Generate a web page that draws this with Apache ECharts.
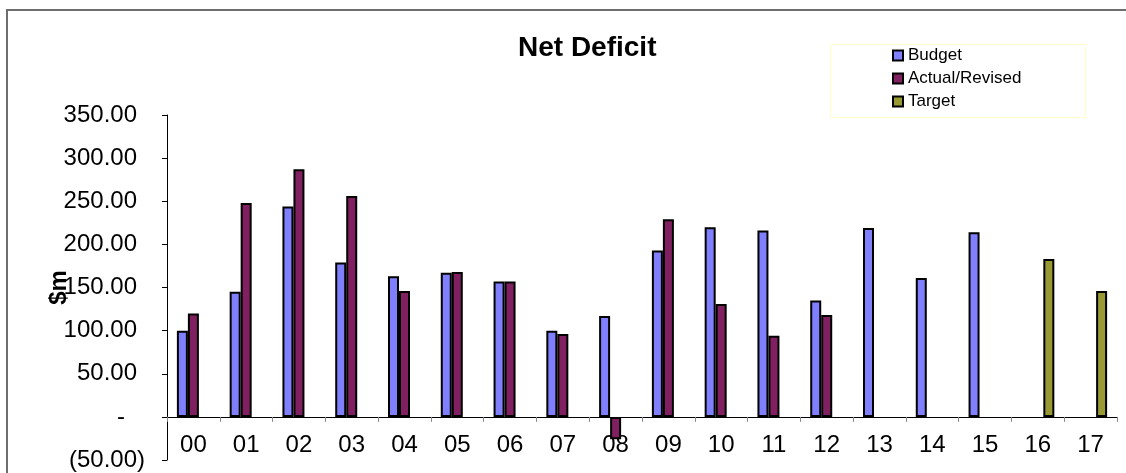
<!DOCTYPE html>
<html>
<head>
<meta charset="utf-8">
<script src="https://cdn.jsdelivr.net/npm/echarts@6/dist/echarts.min.js"></script>
<style>
  html, body { margin: 0; padding: 0; background: #fff; }
  #chart { width: 1126px; height: 473px; }
</style>
</head>
<body>
<div id="chart"></div>
<script>
// categories (years)
var years = ["00", "01", "02", "03", "04", "05", "06", "07", "08", "09", "10", "11", "12", "13", "14", "15", "16", "17"];
// $m values
var budget = [100, 145, 244, 179, 163, 167, 157, 100, 117, 193, 220, 216, 135, 219, 161, 214, null, null];
var actual = [120, 248, 287, 256, 146, 168, 157, 96, -26, 229, 131, 94, 118, null, null, null, null, null];
var target = [null, null, null, null, null, null, null, null, null, null, null, null, null, null, null, null, 183, 146];
var yTicks = { min: -50, max: 350, step: 50 };

var font = "Liberation Sans, Arial, sans-serif";
var myChart = echarts.init(document.getElementById("chart"));

// excel style accounting labels: 150.00 / - / (50.00)
function yLabel(v) {
    if (v === 0) return "{z|-}";
    if (v < 0) return "(" + Math.abs(v).toFixed(2) + ")";
    return "{p|" + v.toFixed(2) + "}";
}

function barSeries(name, data, color) {
    return {
        name: name,
        type: "bar",
        data: data,
        barWidth: 11,
        barGap: "0%",
        itemStyle: { color: color, borderColor: "#000", borderWidth: 2 }
    };
}

var option = {
    animation: false,
    backgroundColor: "#fff",
    title: {
        text: "Net Deficit",
        left: 518,
        top: 34,
        padding: 0,
        textStyle: { fontFamily: font, fontSize: 28, fontWeight: "bold", color: "#000" }
    },
    legend: {
        orient: "vertical",
        left: 892,
        top: 47,
        padding: 0,
        itemGap: 6,
        itemWidth: 10,
        itemHeight: 10,
        itemTextGap: 3,
        icon: "rect",
        itemStyle: { borderColor: "#000", borderWidth: 2 },
        textStyle: { fontFamily: font, fontSize: 17, color: "#000" },
        data: ["Budget", "Actual/Revised", "Target"]
    },
    graphic: [
        {
            type: "polyline",
            shape: { points: [[7, 473], [7, 10], [1126, 10]] },
            style: { stroke: "#6e6e6e", lineWidth: 2, fill: null }
        },
        {
            type: "rect",
            shape: { x: 830.5, y: 44.5, width: 255, height: 73 },
            style: { stroke: "#ffffc8", lineWidth: 1, fill: null },
            z: -1
        }
    ],
    grid: { left: 167, right: 9, top: 115, bottom: 13, outerBoundsMode: "none", containLabel: false },
    xAxis: {
        type: "category",
        data: years,
        axisLine: { onZero: true, lineStyle: { color: "#000", width: 1 } },
        axisTick: { show: true, length: 5, lineStyle: { color: "#888" } },
        // labels stay at the grid bottom, so pull them up under the zero line
        axisLabel: { margin: -27, fontFamily: font, fontSize: 24, color: "#000", interval: 0 }
    },
    yAxis: {
        type: "value",
        min: yTicks.min,
        max: yTicks.max,
        interval: yTicks.step,
        name: "$m",
        nameLocation: "middle",
        nameGap: 96,
        nameMoveOverlap: false,
        nameTextStyle: { fontFamily: font, fontSize: 24, fontWeight: "bold", color: "#000" },
        axisLine: { show: true, lineStyle: { color: "#000", width: 1 } },
        axisTick: { show: true, length: 5, lineStyle: { color: "#000" } },
        splitLine: { show: false },
        axisLabel: {
            margin: 22,
            fontFamily: font,
            fontSize: 24,
            color: "#000",
            formatter: yLabel,
            rich: {
                p: { fontFamily: font, fontSize: 24, color: "#000", padding: [0, 8, 0, 0] },
                z: { fontFamily: font, fontSize: 24, color: "#000", padding: [0, 20, 0, 0] }
            }
        }
    },
    series: [
        barSeries("Budget", budget, "#8080ff"),
        barSeries("Actual/Revised", actual, "#802060"),
        barSeries("Target", target, "#999933")
    ]
};

myChart.setOption(option);
</script>
</body>
</html>
